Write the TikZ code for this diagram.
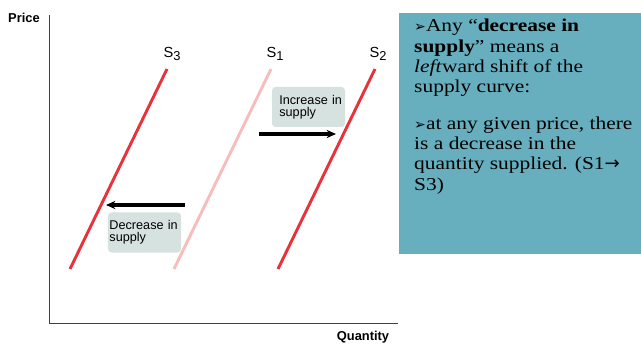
\documentclass[tikz,border=0pt]{standalone}
\usepackage{fontspec}
\setmainfont{Liberation Serif}
\setsansfont{Liberation Sans}
\newfontfamily\symfont{DejaVu Sans}
\newfontfamily\panelfont[Ligatures=TeX, FakeStretch=1.18]{Liberation Serif}
\usetikzlibrary{arrows.meta}

\definecolor{supplyred}{HTML}{E8333C}
\definecolor{supplypink}{HTML}{F7BDBD}
\definecolor{notefill}{HTML}{D6E2DF}
\definecolor{panelteal}{HTML}{67AFBE}

\newcommand{\bul}{{\symfont\fontsize{12}{10}\selectfont ➢}}
\newcommand{\sub}[1]{\raisebox{-0.45ex}{\fontsize{11}{11}\selectfont #1}}

\begin{document}
\begin{tikzpicture}[
  x=0.03cm, y=-0.03cm,
  curve/.style={line width=2.5pt, supplyred},
  oldcurve/.style={line width=2.5pt, supplypink},
  shiftarrow/.style={-{Stealth[length=8pt, width=7pt]}, line width=2.6pt},
  note/.style={fill=notefill, rounded corners=3pt, minimum width=2.19cm, minimum height=1.2cm,
    text width=2.1cm, align=left, inner xsep=0.045cm, font=\sffamily\fontsize{10.8}{10.6}\selectfont},
  axislabel/.style={font=\sffamily\bfseries\fontsize{11}{11}\selectfont},
  curvelabel/.style={font=\sffamily\fontsize{12.5}{12}\selectfont}
]
  \useasboundingbox (0,0) rectangle (641,344);

  % Axes
  \coordinate (origin) at (49,323);
  \coordinate (ytop) at (49,15);
  \coordinate (xend) at (398,323);
  \draw[line width=0.8pt, black!75] (ytop) -- (origin) -- (xend);
  \node[axislabel] (price) at (24,18) {Price};
  \node[axislabel] (quantity) at (363,337) {Quantity};

  % Supply curves
  \coordinate (s3bot) at (70,269);  \coordinate (s3top) at (167,69);
  \coordinate (s1bot) at (174,269); \coordinate (s1top) at (271,69);
  \coordinate (s2bot) at (278,269); \coordinate (s2top) at (375,69);
  \draw[oldcurve] (s1bot) -- (s1top);
  \draw[curve] (s3bot) -- (s3top);
  \draw[curve] (s2bot) -- (s2top);
  \node[curvelabel] (lab3) at (172,54) {S\sub{3}};
  \node[curvelabel] (lab1) at (275,54) {S\sub{1}};
  \node[curvelabel] (lab2) at (378,54) {S\sub{2}};

  % Shifts
  \node[note] (incr) at (308.5,107) {\hspace{5pt}Increase in\\\hspace{5pt}supply};
  \node[note] (decr) at (144.5,232.5) {Decrease in\\supply};
  \coordinate (incrA) at (259,134); \coordinate (incrB) at (336,134);
  \coordinate (decrA) at (185,205); \coordinate (decrB) at (106,205);
  \draw[shiftarrow] (incrA) -- (incrB);
  \draw[shiftarrow] (decrA) -- (decrB);

  % Explanation panel
  \fill[panelteal] (399,13) rectangle (641,254);
  \node[anchor=north west, inner sep=0pt, align=left,
        font=\panelfont\fontsize{15.5}{17.4}\selectfont] (text) at (414,19)
    {\bul Any “\textbf{decrease in}\\
     \textbf{supply}” means a\\
     \textit{left}ward shift of the\\
     supply curve:\\[13.4pt]
     \bul at any given price, there\\
     is a decrease in the\\
     quantity supplied. (S1{\symfont→}\\
     S3)};
\end{tikzpicture}
\end{document}
